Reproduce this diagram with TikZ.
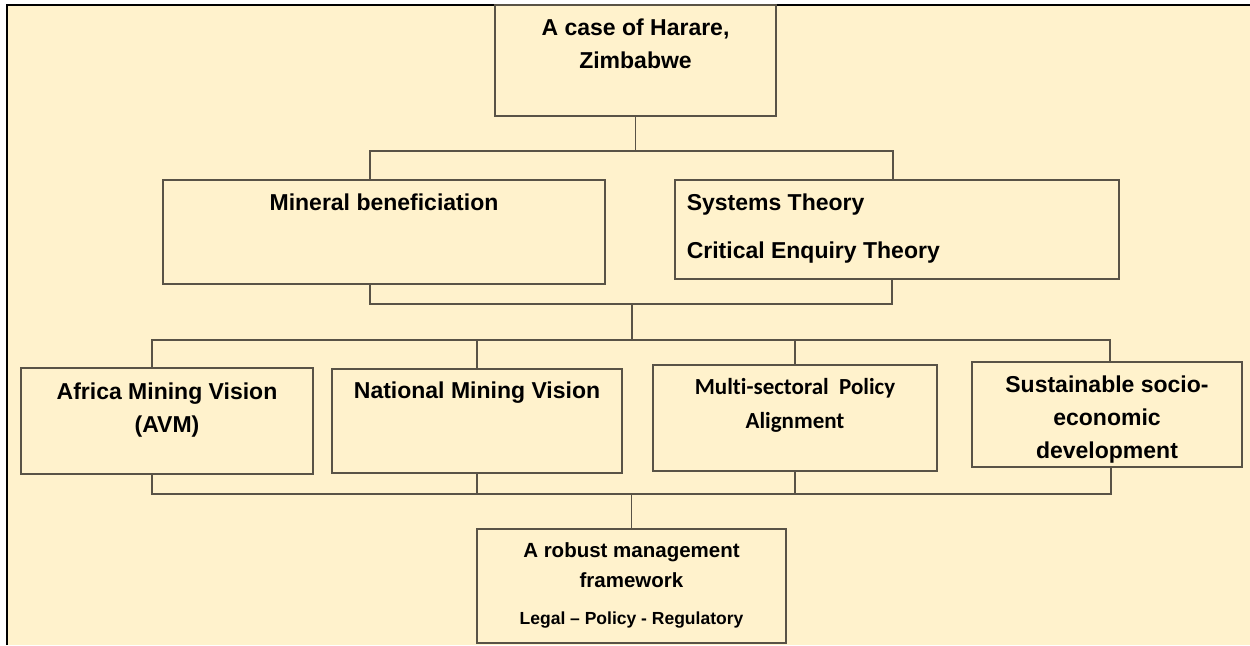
\documentclass[tikz,border=0pt]{standalone}
\usepackage{fontspec}
\setmainfont{Liberation Sans}
\newfontfamily\calibfont[Ligatures=NoCommon]{Carlito}
\usepackage{tikz}
\usetikzlibrary{positioning}

\definecolor{paper}{HTML}{FFF2CC}
\definecolor{linecol}{RGB}{89,83,70}

\tikzset{
  box/.style={draw=linecol, fill=paper, line width=0.65pt, inner sep=0pt},
  link/.style={draw=linecol, line width=0.65pt},
  txt/.style={inner sep=0pt, align=center, font=\bfseries\fontsize{11.5}{16.5}\selectfont},
}

\begin{document}
\begin{tikzpicture}[x=0.5pt,y=-0.5pt]
\useasboundingbox (0,0) rectangle (1250,645);
\fill[paper] (7,5) rectangle (1250,645);
\draw[black, line width=1pt] (7,645) -- (7,5) -- (1250,5);

\node[box, minimum width=140.5pt, minimum height=55.5pt] (top) at (635.5,60.5) {};
\node[box, minimum width=221pt, minimum height=52pt] (mineral) at (384,232) {};
\node[box, minimum width=222pt, minimum height=49.5pt] (systems) at (897,229.5) {};
\node[box, minimum width=146pt, minimum height=53pt] (amv) at (167,421) {};
\node[box, minimum width=145pt, minimum height=52pt] (nmv) at (477,421) {};
\node[box, minimum width=142pt, minimum height=53pt] (msp) at (795,418) {};
\node[box, minimum width=135pt, minimum height=52.5pt] (ssd) at (1107,414.5) {};
\node[box, minimum width=154.5pt, minimum height=57pt] (robust) at (631.5,586) {};

\node[txt, below=7pt of top.north] (topT) {A case of Harare,\\Zimbabwe};
\node[txt, below=7pt of mineral.north] (mineralT) {Mineral beneficiation};
\node[txt, align=left, anchor=north west] (systemsT) at ([xshift=6pt,yshift=-7pt]systems.north west)
  {Systems Theory\\[7.5pt]Critical Enquiry Theory};
\node[txt, below=7.5pt of amv.north] (amvT) {Africa Mining Vision\\(AVM)};
\node[txt, below=6.5pt of nmv.north] (nmvT) {National Mining Vision};
\node[txt, font=\calibfont\bfseries\fontsize{11.5}{17}\selectfont, below=7pt of msp.north] (mspT)
  {Multi-sectoral\ \ Policy\\Alignment};
\node[txt, below=7pt of ssd.north] (ssdT) {Sustainable socio-\\economic\\development};
\node[txt, font=\bfseries\fontsize{10.25}{15}\selectfont, below=7pt of robust.north] (robustT)
  {A robust management\\framework};
\node[txt, font=\bfseries\fontsize{8.75}{10}\selectfont, below=11.5pt of robustT] (legalT)
  {Legal -- Policy - Regulatory};

\coordinate (b1l) at (370,151);
\coordinate (b1r) at (893,151);
\coordinate (b2l) at (370,304);
\coordinate (b2r) at (892,304);
\coordinate (b2m) at (632,304);
\coordinate (b3l) at (152,340);
\coordinate (b3r) at (1110,340);
\coordinate (b4l) at (152,494);
\coordinate (b4r) at (1111,494);

\draw[link] (top.south) -- (top.south |- b1l);
\draw[link] (mineral.north -| b1l) -- (b1l) -- (b1r) -- (systems.north -| b1r);
\draw[link] (mineral.south -| b2l) -- (b2l) -- (b2r) -- (systems.south -| b2r);
\draw[link] (b2m) -- (b2m |- b3l);
\draw[link] (amv.north -| b3l) -- (b3l) -- (b3r) -- (ssd.north -| b3r);
\draw[link] (nmv.north) -- (nmv.north |- b3l);
\draw[link] (msp.north) -- (msp.north |- b3l);
\draw[link] (amv.south -| b4l) -- (b4l) -- (b4r) -- (ssd.south -| b4r);
\draw[link] (nmv.south) -- (nmv.south |- b4l);
\draw[link] (msp.south) -- (msp.south |- b4l);
\draw[link] (robust.north) -- (robust.north |- b4l);
\end{tikzpicture}
\end{document}
